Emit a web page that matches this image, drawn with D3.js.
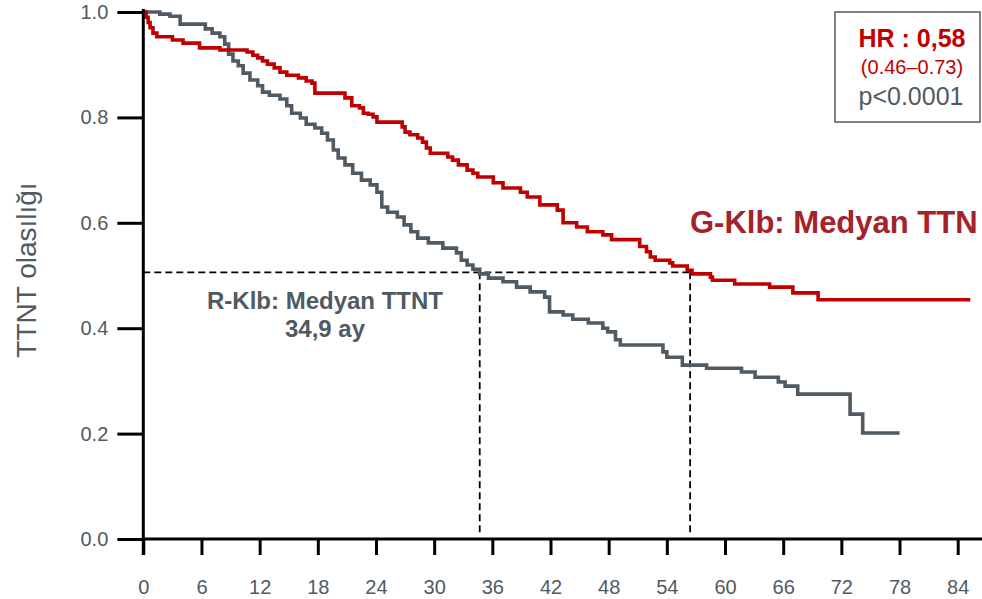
<!DOCTYPE html>
<html>
<head>
<meta charset="utf-8">
<script src="https://cdn.jsdelivr.net/npm/d3@7"></script>
<style>
  body { margin: 0; background: #fff; }
  svg { display: block; font-family: "Liberation Sans", Arial, sans-serif; }
</style>
</head>
<body>
<div id="chart"></div>
<script>
// step data: [month, survival after the drop]
const gKlb = [
  [0, 1.0], [0.3, 0.99], [0.5, 0.98], [0.7, 0.97], [1.0, 0.96], [1.4, 0.953],
  [3.0, 0.947], [4.1, 0.941], [5.8, 0.932], [7.9, 0.928], [10.7, 0.924],
  [11.3, 0.918], [11.8, 0.913], [12.3, 0.907], [12.8, 0.901], [13.5, 0.894],
  [14.1, 0.886], [14.8, 0.880], [16.0, 0.875], [16.8, 0.869], [17.4, 0.865],
  [17.7, 0.846], [20.8, 0.837], [21.5, 0.822], [22.3, 0.818], [22.7, 0.808],
  [23.2, 0.806], [23.7, 0.801], [24.1, 0.791], [26.7, 0.782], [27.0, 0.772],
  [27.5, 0.767], [28.3, 0.761], [28.8, 0.753], [29.2, 0.742], [29.6, 0.732],
  [31.4, 0.725], [31.9, 0.719], [32.5, 0.710], [33.4, 0.700], [34.0, 0.694],
  [34.5, 0.687], [36.1, 0.676], [37.1, 0.666], [38.9, 0.658], [39.6, 0.649],
  [40.9, 0.634], [42.7, 0.624], [43.3, 0.600], [44.7, 0.592], [45.8, 0.583],
  [47.4, 0.577], [48.3, 0.568], [51.2, 0.555], [51.9, 0.545], [52.3, 0.535],
  [52.8, 0.529], [54.3, 0.524], [54.6, 0.518], [56.1, 0.510], [56.6, 0.503],
  [58.5, 0.497], [58.7, 0.491], [61.0, 0.484], [64.6, 0.478], [67.0, 0.467],
  [69.6, 0.454], [85.3, 0.454]
];

const rKlb = [
  [0, 1.0], [1.7, 0.996], [2.75, 0.992], [3.8, 0.977], [6.4, 0.968], [7.1, 0.960],
  [7.9, 0.953], [8.4, 0.939], [8.8, 0.920], [9.25, 0.907], [9.8, 0.898],
  [10.3, 0.884], [11.0, 0.871], [11.8, 0.860], [12.3, 0.848], [13.0, 0.842],
  [14.1, 0.835], [14.8, 0.822], [15.3, 0.808], [16.2, 0.799], [16.8, 0.787],
  [17.7, 0.780], [18.4, 0.770], [19.0, 0.757], [19.6, 0.738], [20.1, 0.723],
  [20.8, 0.710], [21.6, 0.694], [22.5, 0.681], [23.4, 0.672], [24.1, 0.658],
  [24.6, 0.630], [25.2, 0.620], [26.2, 0.611], [26.9, 0.596], [27.6, 0.583],
  [28.3, 0.571], [29.4, 0.562], [30.9, 0.552], [32.3, 0.543], [32.8, 0.529],
  [33.4, 0.520], [34.0, 0.512], [34.7, 0.503], [35.6, 0.495], [37.1, 0.488],
  [38.5, 0.478], [39.9, 0.469], [41.4, 0.459], [41.9, 0.431], [43.3, 0.425],
  [44.3, 0.417], [45.9, 0.410], [47.4, 0.400], [47.9, 0.393], [48.7, 0.378],
  [49.2, 0.368], [53.6, 0.355], [54.0, 0.345], [55.6, 0.330], [58.1, 0.324],
  [61.7, 0.317], [63.1, 0.307], [65.5, 0.298], [66.2, 0.290], [67.5, 0.275],
  [72.9, 0.237], [74.2, 0.201], [78.0, 0.201]
];

const xTicks = [0, 6, 12, 18, 24, 30, 36, 42, 48, 54, 60, 66, 72, 78, 84];
const yTicks = [0, 0.2, 0.4, 0.6, 0.8, 1.0];
const medianLevel = 0.506;
const medianR = 34.7;   // where the dashed line sits in the picture
const medianG = 56.4;

const slate = "#505a63";
const red = "#c00000";

const width = 982, height = 599;

const svg = d3.select("#chart").append("svg")
  .attr("width", width)
  .attr("height", height);

const x = d3.scaleLinear().domain([0, 84]).range([143.3, 957.7]);
const y = d3.scaleLinear().domain([0, 1]).range([539, 12]);

// median guide lines
const guides = svg.append("g")
  .attr("fill", "none")
  .attr("stroke", "#000")
  .attr("stroke-width", 1.8)
  .attr("stroke-dasharray", "7,4");

guides.append("line")
  .attr("x1", x(0)).attr("x2", x(medianG))
  .attr("y1", y(medianLevel)).attr("y2", y(medianLevel));

[medianR, medianG].forEach(m => {
  guides.append("line")
    .attr("x1", x(m)).attr("x2", x(m))
    .attr("y1", y(medianLevel)).attr("y2", y(0.012));
});

// curves
const line = d3.line()
  .x(d => x(d[0]))
  .y(d => y(d[1]))
  .curve(d3.curveStepAfter);

svg.append("path")
  .datum(rKlb)
  .attr("fill", "none")
  .attr("stroke", slate)
  .attr("stroke-width", 3.6)
  .attr("d", line);

svg.append("path")
  .datum(gKlb)
  .attr("fill", "none")
  .attr("stroke", red)
  .attr("stroke-width", 3.6)
  .attr("d", line);

// axes
const xAxis = svg.append("g")
  .attr("transform", `translate(0, ${y(0)})`)
  .call(d3.axisBottom(x).tickValues(xTicks).tickSize(16).tickSizeOuter(0).tickPadding(25)
    .tickFormat(d3.format("d")));
xAxis.select(".domain").remove();
xAxis.append("line")
  .attr("x1", x(0)).attr("x2", width)
  .attr("stroke", "#000").attr("stroke-width", 3);
xAxis.selectAll(".tick line").attr("stroke-width", 3);
xAxis.selectAll(".tick text")
  .attr("fill", slate)
  .attr("font-size", 20);

const yAxis = svg.append("g")
  .attr("transform", `translate(${x(0)}, 0)`)
  .call(d3.axisLeft(y).tickValues(yTicks).tickSize(26).tickSizeOuter(0).tickPadding(9)
    .tickFormat(d3.format(".1f")));
yAxis.select(".domain").remove();
yAxis.append("line")
  .attr("y1", 9).attr("y2", y(0) + 16)
  .attr("stroke", "#000").attr("stroke-width", 3);
yAxis.selectAll(".tick line").attr("stroke-width", 3);
yAxis.selectAll(".tick text")
  .attr("fill", slate)
  .attr("font-size", 20);

svg.append("text")
  .attr("transform", "translate(36, 270) rotate(-90)")
  .attr("text-anchor", "middle")
  .attr("fill", slate)
  .attr("font-size", 28)
  .text("TTNT olasılığı");

// hazard ratio box
svg.append("rect")
  .attr("x", 835).attr("y", 12)
  .attr("width", 145).attr("height", 110)
  .attr("fill", "#fff")
  .attr("stroke", slate)
  .attr("stroke-width", 1.5);

svg.append("text")
  .attr("x", 912).attr("y", 47)
  .attr("text-anchor", "middle")
  .attr("fill", red)
  .attr("font-size", 25)
  .attr("font-weight", "bold")
  .text("HR : 0,58");

svg.append("text")
  .attr("x", 912).attr("y", 74)
  .attr("text-anchor", "middle")
  .attr("fill", red)
  .attr("font-size", 20)
  .text("(0.46–0.73)");

svg.append("text")
  .attr("x", 911).attr("y", 105)
  .attr("text-anchor", "middle")
  .attr("fill", slate)
  .attr("font-size", 25)
  .text("p<0.0001");

// curve labels (the red one runs up to the right edge, as in the picture)
svg.append("text")
  .attr("x", 690).attr("y", 233)
  .attr("fill", "#a6212a")
  .attr("font-size", 31)
  .attr("font-weight", "bold")
  .text("G-Klb: Medyan TTN");

svg.append("text")
  .attr("x", 325).attr("y", 309)
  .attr("text-anchor", "middle")
  .attr("fill", slate)
  .attr("font-size", 24)
  .attr("font-weight", "bold")
  .text("R-Klb: Medyan TTNT");

svg.append("text")
  .attr("x", 325).attr("y", 337)
  .attr("text-anchor", "middle")
  .attr("fill", slate)
  .attr("font-size", 24)
  .attr("font-weight", "bold")
  .text("34,9 ay");
</script>
</body>
</html>
